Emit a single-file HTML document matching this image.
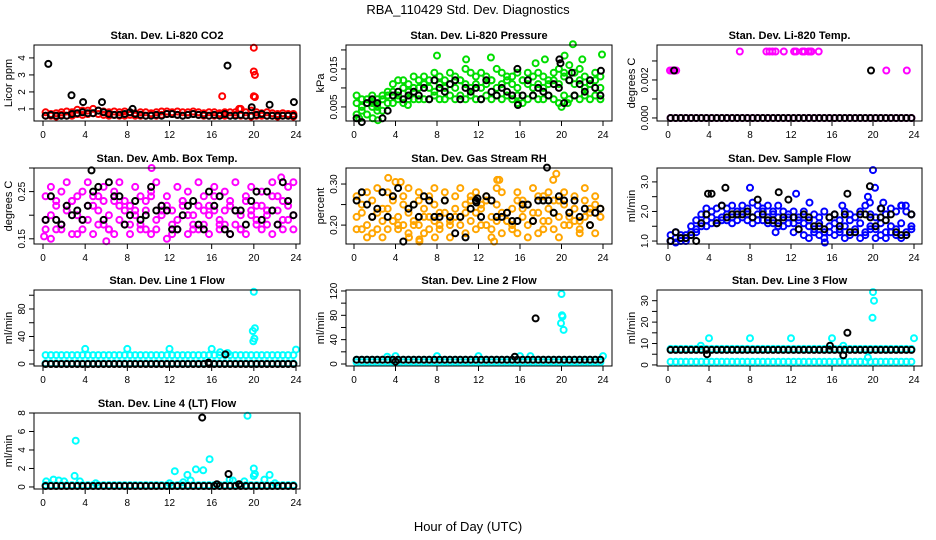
<!DOCTYPE html>
<html><head><meta charset="utf-8"><style>
html,body{margin:0;padding:0;background:#fff;}
svg{display:block;font-family:"Liberation Sans",sans-serif;}
</style></head><body>
<svg id="chart" width="936" height="540" xmlns="http://www.w3.org/2000/svg">
<rect width="936" height="540" fill="#fff"/>
<text x="468" y="14" font-size="13" text-anchor="middle">RBA_110429  Std. Dev. Diagnostics</text>
<text x="468" y="531" font-size="13" text-anchor="middle">Hour of Day (UTC)</text>
</svg>
<script>
// ---------- data (half-hour arrays: 48 values, t = i*0.5+0.25) ----------
const co2RedA=[0.6,0.6,0.55,0.65,0.6,0.6,0.7,0.65,0.7,0.75,0.7,0.65,0.6,0.65,0.6,0.6,0.65,0.6,0.6,0.6,0.65,0.6,0.65,0.7,0.7,0.65,0.6,0.65,0.7,0.65,0.6,0.6,0.6,0.65,0.6,0.6,0.65,0.6,0.6,0.55,0.6,0.6,0.6,0.6,0.55,0.6,0.6,0.55];
const co2RedB=[0.8,0.7,0.75,0.8,0.85,0.8,0.95,0.9,0.9,1.0,0.9,0.85,0.8,0.85,0.8,0.85,0.8,0.75,0.8,0.8,0.75,0.8,0.85,0.85,0.8,0.85,0.8,0.8,0.85,0.8,0.75,0.8,0.8,0.75,0.8,0.8,0.8,1.0,0.8,0.9,0.8,0.75,0.8,0.75,0.7,0.75,0.7,0.7];
const co2RedOutT=[17.0,18.6,20.0,20.0,20.1,20.0,20.1];
const co2RedOutV=[1.75,1.0,4.6,3.2,3.0,1.75,1.7];
const co2Black=[0.6,0.65,0.6,0.6,0.6,0.7,0.75,0.8,0.75,0.75,0.9,0.8,0.7,0.65,0.65,0.7,0.8,0.7,0.65,0.6,0.6,0.65,0.6,0.7,0.7,0.65,0.6,0.65,0.7,0.65,0.65,0.6,0.65,0.6,0.7,0.6,0.6,0.65,0.6,0.6,0.65,0.7,0.6,0.6,0.6,0.6,0.6,0.6];
const co2BlackOutT=[0.5,2.7,3.8,5.6,8.5,17.5,19.8,21.5,23.8];
const co2BlackOutV=[3.65,1.8,1.4,1.4,1.0,3.55,1.1,1.25,1.4];
const presGreenA=[3,4,3,5,4,4,6,6,7,6,7,7,7,7,7,8,7,7,8,7,8,7,8,7,7,8,7,8,7,8,7,8,6,7,8,7,7,8,7,6,8,7,8,7,8,7,8,7];
const presGreenB=[6,5,7,6,5,7,8,9,8,10,9,10,10,11,10,9,11,10,11,10,12,11,10,11,10,11,12,10,11,12,11,10,12,11,10,11,10,11,12,11,13,12,11,12,10,11,12,10];
const presGreenC=[8,7,6,8,7,8,9,11,12,12,11,13,12,13,12,14,13,12,14,13,12,15,14,13,14,13,12,15,14,13,13,14,12,14,13,14,13,12,14,15,14,16,14,15,13,12,14,13];
const presGreenOutT=[8.0,10.8,13.2,17.5,18.4,21.1,20.3,22.0,23.9,20.0,20.6,15.8,5.2,0.5,2.3,1.8];
const presGreenOutV=[18.5,17.5,18,16.5,17.5,21.5,18.5,17.5,18.8,5,6,6,5.5,2,1.5,2];
const presBlack=[2,1,6,7,6,2,4,8,9,7,8,9,8,10,7,12,10,9,11,12,7,10,9,10,7,12,9,8,10,9,8,15,8,12,8,10,9,8,11,10,6,12,8,11,9,12,10,8];
const presBlackOutT=[19.8,19.9,21.0,23.8,15.8];
const presBlackOutV=[17.5,16.5,14,14.5,5.5];
const tempMag=[0,0,0,0,0,0,0,0,0,0,0,0,0,0,0,0,0,0,0,0,0,0,0,0,0,0,0,0,0,0,0,0,0,0,0,0,0,0,0,0,0,0,0,0,0,0,0,0];
const tempMagOutT=[0.2,0.4,0.6,0.8,7.0,9.6,9.9,10.2,10.5,11.3,12.3,12.5,13.1,13.3,13.7,13.9,14.0,14.7,21.3,23.3];
const tempMagOutV=[2.5,2.5,2.5,2.5,3.5,3.5,3.5,3.5,3.5,3.5,3.5,3.5,3.5,3.5,3.5,3.5,3.5,3.5,2.5,2.5];
const tempBlack=[0,0,0,0,0,0,0,0,0,0,0,0,0,0,0,0,0,0,0,0,0,0,0,0,0,0,0,0,0,0,0,0,0,0,0,0,0,0,0,0,0,0,0,0,0,0,0,0];
const tempBlackOutT=[0.6,19.8];
const tempBlackOutV=[2.5,2.5];
const ambMagA=[19,20,22,18,21,23,20,19,22,24,21,18,20,23,19,21,22,20,18,21,24,19,20,22,21,19,23,20,18,22,21,20,24,19,21,22,18,20,23,21,19,22,20,24,21,19,22,20];
const ambMagB=[24,26,17,25,27,23,16,25,27,22,24,26,17,25,27,23,18,26,24,17,25,27,22,24,16,26,23,25,17,27,24,22,26,18,25,23,27,17,24,26,22,25,18,27,24,23,26,27];
const ambMagC=[17,15,23,17,22,16,24,17,19,16,18,23,17,16,22,18,16,21,17,23,16,17,21,15,18,17,22,16,20,17,18,16,21,17,18,16,21,17,16,20,18,17,21,16,18,17,19,17];
const ambMagOutT=[0.1,6.0,10.3,22.6];
const ambMagOutV=[15.5,14.5,30,28];
const ambBlack=[19,24,19,18,22,20,21,19,22,25,26,19,27,24,24,18,20,23,19,20,26,21,22,21,17,17,20,22,23,18,17,25,22,24,17,16,21,21,18,23,25,19,25,21,18,27,23,20];
const ambBlackOutT=[4.6];
const ambBlackOutV=[29.5];
const rhOrA=[22,25,20,26,23,21,24,27,22,25,23,21,26,24,22,25,23,26,21,24,22,25,27,23,24,26,22,25,23,21,24,26,22,25,23,27,21,24,26,22,25,23,24,21,26,23,25,22];
const rhOrB=[27,19,28,18,29,17,28,26,19,27,29,20,28,18,27,29,19,28,20,27,29,18,26,28,20,27,19,29,28,21,19,28,26,20,29,18,27,28,19,26,28,20,27,18,29,20,27,24];
const rhOrC=[19,23,17,22,19,24,19,21,20,20,18,25,20,22,19,21,20,23,17,22,20,23,21,19,25,20,17,21,18,23,20,18,24,17,21,23,19,21,23,17,20,22,21,19,22,24,18,22];
const rhOrOutT=[3.3,4.0,4.5,6.3,7.8,13.8,14.0,19.2,19.5,5.3,6.3,13.5];
const rhOrOutV=[31.5,30.5,30.5,16.5,17,31,31,31,32.5,17,16,16];
const rhBlack=[26,28,25,22,24,28,22,27,29,16,24,25,22,27,26,22,22,26,22,18,22,17,24,26,22,27,26,22,22,23,21,21,25,25,21,26,26,26,23,27,26,23,26,22,24,20,23,24];
const rhBlackOutT=[18.6,11.8,11.9];
const rhBlackOutV=[34,25.5,26.5];
const sfBlueA=[1.0,1.1,1.0,1.2,1.3,1.4,1.6,1.7,1.8,1.7,1.8,1.9,1.8,1.9,2.0,1.9,1.8,1.9,2.0,1.8,1.9,1.8,1.7,1.8,1.6,1.7,1.6,1.5,1.4,1.6,1.3,1.5,1.6,1.4,1.5,1.7,1.4,1.6,1.3,1.5,1.4,1.6,1.3,1.5,1.4,1.6,1.3,1.5];
const sfBlueB=[1.2,1.3,1.2,1.1,1.5,1.7,1.9,2.1,2.0,2.1,2.2,2.1,2.2,2.0,2.2,2.1,2.3,2.2,2.1,2.2,2.0,2.2,2.0,1.9,2.0,1.8,2.0,1.7,1.9,1.8,2.0,1.8,1.9,1.7,2.0,1.9,1.8,2.0,2.2,1.9,1.8,2.1,1.9,2.1,2.0,2.2,2.0,1.9];
const sfBlueC=[1.0,0.95,1.1,1.0,1.2,1.3,1.5,1.5,1.6,1.6,1.7,1.7,1.6,1.7,1.8,1.7,1.6,1.7,1.7,1.6,1.6,1.5,1.5,1.6,1.3,1.4,1.2,1.1,1.3,1.2,1.1,1.3,1.2,1.3,1.1,1.2,1.3,1.1,1.2,1.4,1.1,1.2,1.1,1.3,1.2,1.1,1.2,1.4];
const sfBlueOutT=[8.0,10.5,12.5,13.8,15.3,19.5,19.7,20.0,20.2,21.0,17.0,22.8,23.2];
const sfBlueOutV=[2.8,1.3,2.6,2.3,0.95,2.5,2.3,3.4,2.8,2.3,2.2,2.2,2.2];
const sfBlack=[1.0,1.3,1.1,1.1,1.2,1.0,1.6,1.9,2.6,1.6,2.2,1.8,1.9,1.9,1.9,2.0,1.8,2.4,1.9,1.7,1.7,1.6,1.8,2.4,1.8,1.4,1.9,1.8,1.5,1.5,1.4,1.8,1.9,1.5,1.9,1.3,1.3,1.9,1.9,1.8,1.5,1.8,1.7,1.9,1.3,1.2,1.2,1.9];
const sfBlackOutT=[3.9,5.6,10.8,17.5,19.7,20.8];
const sfBlackOutV=[2.6,2.8,2.65,2.6,2.85,2.1];
const l1CyanA=[13,13,13,13,13,13,13,13,13,13,13,13,13,13,13,13,13,13,13,13,13,13,13,13,13,13,13,13,13,13,13,13,13,13,13,13,13,13,13,13,13,13,13,13,13,13,13,13];
const l1CyanB=[1,1,1,1,1,1,1,1,1,1,1,1,1,1,1,1,1,1,1,1,1,1,1,1,1,1,1,1,1,1,1,1,1,1,1,1,1,1,1,1,1,1,1,1,1,1,1,1];
const l1CyanOutT=[4,8,12,16,24,20,20.1,19.9,20.05,19.95,16.8,17.5];
const l1CyanOutV=[22,22,22,22,21,105,52,48,37,33,17,16];
const l1Black=[0,0,0,0,0,0,0,0,0,0,0,0,0,0,0,0,0,0,0,0,0,0,0,0,0,0,0,0,0,0,0,0,0,0,0,0,0,0,0,0,0,0,0,0,0,0,0,0];
const l1BlackOutT=[17.3,15.7];
const l1BlackOutV=[14,2];
const l2CyanA=[3,3,3,3,3,3,3,3,3,3,3,3,3,3,3,3,3,3,3,3,3,3,3,3,3,3,3,3,3,3,3,3,3,3,3,3,3,3,3,3,3,3,3,3,3,3,3,3];
const l2CyanB=[7,7,7,7,7,7,7,7,7,7,7,7,7,7,7,7,7,7,7,7,7,7,7,7,7,7,7,7,7,7,7,7,7,7,7,7,7,7,7,7,7,7,7,7,7,7,7,7];
const l2CyanOutT=[4,8,12,16,17,24,20,20.05,20.1,19.95,20.2,3.2];
const l2CyanOutV=[13,13,13,13,13,13,115,80,78,67,56,12];
const l2Black=[7,7,7,7,7,7,7,7,7,7,7,7,7,7,7,7,7,7,7,7,7,7,7,7,7,7,7,7,7,7,7,7,7,7,7,7,7,7,7,7,7,7,7,7,7,7,7,7];
const l2BlackOutT=[17.5,15.5,4.0];
const l2BlackOutV=[75,12,4];
const l3CyanA=[1.5,1.5,1.5,1.5,1.5,1.5,1.5,1.5,1.5,1.5,1.5,1.5,1.5,1.5,1.5,1.5,1.5,1.5,1.5,1.5,1.5,1.5,1.5,1.5,1.5,1.5,1.5,1.5,1.5,1.5,1.5,1.5,1.5,1.5,1.5,1.5,1.5,1.5,1.5,1.5,1.5,1.5,1.5,1.5,1.5,1.5,1.5,1.5];
const l3CyanB=[7.5,7.5,7.5,7.5,7.5,7.5,7.5,7.5,7.5,7.5,7.5,7.5,7.5,7.5,7.5,7.5,7.5,7.5,7.5,7.5,7.5,7.5,7.5,7.5,7.5,7.5,7.5,7.5,7.5,7.5,7.5,7.5,7.5,7.5,7.5,7.5,7.5,7.5,7.5,7.5,7.5,7.5,7.5,7.5,7.5,7.5,7.5,7.5];
const l3CyanOutT=[4,8,12,16,24,20,20.1,19.95,3.2,19.5,17.1];
const l3CyanOutV=[12.5,12.5,12.5,12.5,12.5,34,30,22,9,3.5,9];
const l3Black=[7,7,7,7,7,7,7,7,7,7,7,7,7,7,7,7,7,7,7,7,7,7,7,7,7,7,7,7,7,7,7,7,7,7,7,7,7,7,7,7,7,7,7,7,7,7,7,7];
const l3BlackOutT=[3.8,15.8,17.1,17.5];
const l3BlackOutV=[5,9,4.5,15];
const l4CyanA=[0.2,0.2,0.2,0.2,0.2,0.2,0.2,0.2,0.2,0.2,0.2,0.2,0.2,0.2,0.2,0.2,0.2,0.2,0.2,0.2,0.2,0.2,0.2,0.2,0.2,0.2,0.2,0.2,0.2,0.2,0.2,0.2,0.2,0.2,0.2,0.2,0.2,0.2,0.2,0.2,0.2,0.2,0.2,0.2,0.2,0.2,0.2,0.2];
const l4CyanOutT=[0.3,1,1.5,2,3,3.1,3.5,5,12,12.5,13.3,13.7,14,14.5,15.2,15.8,17.7,18,19.1,19.4,20,20,20.1,21,21.5,22];
const l4CyanOutV=[0.6,0.8,0.7,0.6,1.2,5,0.6,0.4,0.4,1.7,0.5,1.3,0.7,1.9,1.8,3,0.8,0.7,0.6,7.7,1.2,2,1.4,0.8,1.3,0.4];
const l4Black=[0.1,0.1,0.1,0.1,0.1,0.1,0.1,0.1,0.1,0.1,0.1,0.1,0.1,0.1,0.1,0.1,0.1,0.1,0.1,0.1,0.1,0.1,0.1,0.1,0.1,0.1,0.1,0.1,0.1,0.1,0.1,0.1,0.1,0.1,0.1,0.1,0.1,0.1,0.1,0.1,0.1,0.1,0.1,0.1,0.1,0.1,0.1,0.1];
const l4BlackOutT=[15.1,17.6,16.5,18.6];
const l4BlackOutV=[7.5,1.4,0.3,0.3];
const xTickVals=[0,4,8,12,16,20,24];

const NS="http://www.w3.org/2000/svg";
const svg=document.getElementById('chart');
const colBox=[[34,300],[346,612],[657,922]];
const colX=[[43,296],[354,603],[668,914]];
const rowTop=[45,168,290,413];
const BH=76;
function mk(tag,attrs,parent){const e=document.createElementNS(NS,tag);for(const k in attrs)e.setAttribute(k,attrs[k]);(parent||svg).appendChild(e);return e;}
function half(arr){return arr.map((v,i)=>[i*0.5+0.25,v]);}
function pairs(t,v){return t.map((x,i)=>[x,v[i]]);}

const RED="#ff0000",GREEN="#00dd00",MAG="#ff00ff",ORANGE="#ffa500",BLUE="#0000ff",CYAN="#00ffff",BLK="#000000";
const panels=[
 {key:'co2',title:'Stan. Dev. Li-820 CO2',ylab:'Licor ppm',c:0,r:0,usr:[0.29,4.76],ticks:[1,2,3,4],labels:['1','2','3','4'],
  series:[[half(co2RedA),RED],[half(co2RedB),RED],[pairs(co2RedOutT,co2RedOutV),RED],[half(co2Black),BLK],[pairs(co2BlackOutT,co2BlackOutV),BLK]]},
 {key:'pressure',title:'Stan. Dev. Li-820 Pressure',ylab:'kPa',c:1,r:0,usr:[1.3,21.3],ticks:[5,10,15,20],labels:['0.005','','0.015',''],
  series:[[half(presGreenA),GREEN],[half(presGreenB),GREEN],[half(presGreenC),GREEN],[pairs(presGreenOutT,presGreenOutV),GREEN],[half(presBlack),BLK],[pairs(presBlackOutT,presBlackOutV),BLK]]},
 {key:'temp',title:'Stan. Dev. Li-820 Temp.',ylab:'degrees C',c:2,r:0,usr:[-0.16,3.84],ticks:[0,1,2,3],labels:['0.000','','0.002',''],
  series:[[half(tempMag),MAG],[pairs(tempMagOutT,tempMagOutV),MAG],[half(tempBlack),BLK],[pairs(tempBlackOutT,tempBlackOutV),BLK]]},
 {key:'amb-temp',title:'Stan. Dev. Amb. Box Temp.',ylab:'degrees C',c:0,r:1,usr:[13.9,30.0],ticks:[15,20,25,30],labels:['0.15','','0.25',''],
  series:[[half(ambMagA),MAG],[half(ambMagB),MAG],[half(ambMagC),MAG],[pairs(ambMagOutT,ambMagOutV),MAG],[half(ambBlack),BLK],[pairs(ambBlackOutT,ambBlackOutV),BLK]]},
 {key:'rh',title:'Stan. Dev. Gas Stream RH',ylab:'percent',c:1,r:1,usr:[15.4,33.9],ticks:[20,25,30],labels:['0.20','','0.30'],
  series:[[half(rhOrA),ORANGE],[half(rhOrB),ORANGE],[half(rhOrC),ORANGE],[pairs(rhOrOutT,rhOrOutV),ORANGE],[half(rhBlack),BLK],[pairs(rhBlackOutT,rhBlackOutV),BLK]]},
 {key:'sample-flow',title:'Stan. Dev. Sample Flow',ylab:'ml/min',c:2,r:1,usr:[0.9,3.47],ticks:[1,1.5,2,2.5,3],labels:['1.0','','2.0','','3.0'],
  series:[[half(sfBlueA),BLUE],[half(sfBlueB),BLUE],[half(sfBlueC),BLUE],[pairs(sfBlueOutT,sfBlueOutV),BLUE],[half(sfBlack),BLK],[pairs(sfBlackOutT,sfBlackOutV),BLK]]},
 {key:'line1',title:'Stan. Dev. Line 1 Flow',ylab:'ml/min',c:0,r:2,usr:[-2.9,107.6],ticks:[0,20,40,60,80,100],labels:['0','','40','','80',''],
  series:[[half(l1CyanA),CYAN],[half(l1CyanB),CYAN],[pairs(l1CyanOutT,l1CyanOutV),CYAN],[half(l1Black),BLK],[pairs(l1BlackOutT,l1BlackOutV),BLK]]},
 {key:'line2',title:'Stan. Dev. Line 2 Flow',ylab:'ml/min',c:1,r:2,usr:[-3.3,121.6],ticks:[0,20,40,60,80,100,120],labels:['0','','40','','80','','120'],
  series:[[half(l2CyanA),CYAN],[half(l2CyanB),CYAN],[pairs(l2CyanOutT,l2CyanOutV),CYAN],[half(l2Black),BLK],[pairs(l2BlackOutT,l2BlackOutV),BLK]]},
 {key:'line3',title:'Stan. Dev. Line 3 Flow',ylab:'ml/min',c:2,r:2,usr:[-0.5,35],ticks:[0,5,10,15,20,25,30],labels:['0','','10','','20','','30'],
  series:[[half(l3CyanA),CYAN],[half(l3CyanB),CYAN],[pairs(l3CyanOutT,l3CyanOutV),CYAN],[half(l3Black),BLK],[pairs(l3BlackOutT,l3BlackOutV),BLK]]},
 {key:'line4',title:'Stan. Dev. Line 4 (LT) Flow',ylab:'ml/min',c:0,r:3,usr:[-0.22,8.0],ticks:[0,2,4,6,8],labels:['0','2','4','6','8'],
  series:[[half(l4CyanA),CYAN],[pairs(l4CyanOutT,l4CyanOutV),CYAN],[half(l4Black),BLK],[pairs(l4BlackOutT,l4BlackOutV),BLK]]}
];

panels.forEach(p=>{
  const [bl,br]=colBox[p.c], top=rowTop[p.r], bot=top+BH;
  const [x0,x24]=colX[p.c];
  const xs=t=>x0+t/24*(x24-x0);
  const ys=v=>bot-(v-p.usr[0])/(p.usr[1]-p.usr[0])*BH;
  const g=mk('g',{});
  
  
  const ttl=mk('text',{x:(bl+br)/2,y:top-6,'font-size':11,'font-weight':'bold','text-anchor':'middle'},g);
  ttl.textContent=p.title;
  
  
  const pg=mk('g',{fill:'none','stroke-width':2},g);
  
  
  p.series.forEach(([pts,col])=>{
    pts.forEach(([t,v])=>{
      const c=mk('circle',{cx:xs(t).toFixed(1),cy:ys(v).toFixed(1),r:3,stroke:col},pg);
      
      
    });
  });
  const box=mk('rect',{x:bl,y:top,width:br-bl,height:BH,fill:'none',stroke:'#000','stroke-width':1},g);
  
  
  const xa=mk('g',{},g);
  
  
  mk('line',{x1:xs(0),x2:xs(24),y1:bot,y2:bot,stroke:'#000'},xa);
  xTickVals.forEach(t=>{
    mk('line',{x1:xs(t),x2:xs(t),y1:bot,y2:bot+5,stroke:'#000'},xa);
    const tx=mk('text',{x:xs(t),y:bot+17,'font-size':10,'text-anchor':'middle'},xa);
    tx.textContent=String(t);
    
    
  });
  const ya=mk('g',{},g);
  
  
  mk('line',{x1:bl,x2:bl,y1:ys(p.ticks[0]),y2:ys(p.ticks[p.ticks.length-1]),stroke:'#000'},ya);
  p.ticks.forEach((v,i)=>{
    const y=ys(v);
    mk('line',{x1:bl-5,x2:bl,y1:y,y2:y,stroke:'#000'},ya);
    if(p.labels[i]){
      const tx=mk('text',{x:0,y:0,'font-size':10,'text-anchor':'middle',transform:`translate(${bl-9},${y}) rotate(-90)`},ya);
      tx.textContent=p.labels[i];
      
      
    }
  });
  const yl=mk('text',{x:0,y:0,'font-size':11,'text-anchor':'middle',transform:`translate(${bl-22},${(top+bot)/2}) rotate(-90)`},g);
  yl.textContent=p.ylab;
  
  
});
</script>
</body></html>
